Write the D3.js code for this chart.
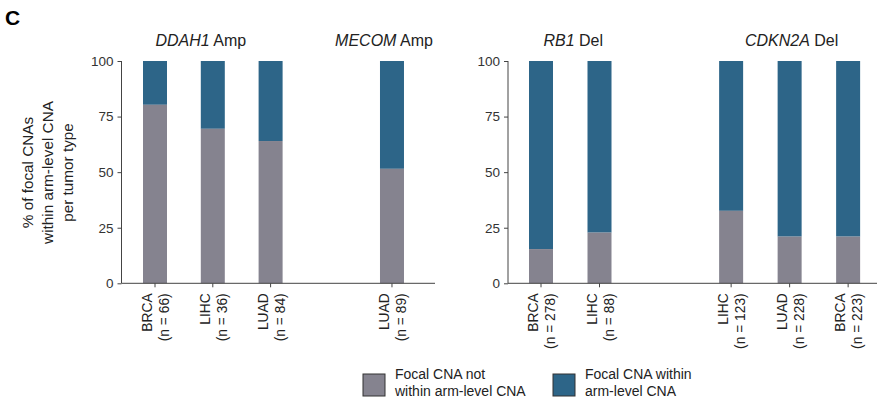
<!DOCTYPE html>
<html><head><meta charset="utf-8">
<script src="https://cdn.jsdelivr.net/npm/d3@7"></script>
<style>
html,body{margin:0;padding:0;background:#fff;}
svg{font-family:Arial,"Liberation Sans",Helvetica,sans-serif;}
</style></head>
<body><svg id="c" width="882" height="413"></svg>
<script>
// ---- data ----
const leftGenes = ["DDAH1", "MECOM"];
const leftTypes = ["Amp", "Amp"];
const leftCats = [["BRCA", "LIHC", "LUAD"], ["LUAD"]];
const leftN = [[66, 36, 84], [89]];
const leftNotWithin = [[80.3, 69.5, 64.0], [51.5]];

const rightGenes = ["RB1", "CDKN2A"];
const rightTypes = ["Del", "Del"];
const rightCats = [["BRCA", "LIHC"], ["LIHC", "LUAD", "BRCA"]];
const rightN = [[278, 88], [123, 228, 223]];
const rightNotWithin = [[15.4, 22.8], [32.6, 21.0, 21.0]];

const yTicks = [0, 25, 50, 75, 100];
const seriesNames = [["Focal CNA not", "within arm-level CNA"], ["Focal CNA within", "arm-level CNA"]];
const colors = ["#85838f", "#2d6588"];

const svg = d3.select("#c");
const y = d3.scaleLinear().domain([0, 100]).range([283.3, 61]);

svg.append("text").attr("x", 5).attr("y", 25).attr("font-size", 21).attr("font-weight", "bold").text("C");

// y label
const yl = svg.append("text").attr("transform", "translate(53,172.5) rotate(-90)")
  .attr("text-anchor", "middle").attr("font-size", 15.3).attr("fill", "#222");
["% of focal CNAs", "within arm-level CNA", "per tumor type"].forEach((t, i) => {
  yl.append("tspan").attr("x", 0).attr("dy", i === 0 ? -20 : 20).text(t);
});

function panel(axisX, axisEnd, firstOffset, spacing, gapSlots, genes, types, cats, ns, vals, titleOffsets) {
  const items = [];
  const groupCenters = [];
  let slot = 0;
  cats.forEach((g, gi) => {
    const start = slot;
    g.forEach((c, ci) => {
      items.push({cat: c, n: ns[gi][ci], v: vals[gi][ci], slot: slot});
      slot += 1;
    });
    groupCenters.push((start + slot - 1) / 2);
    slot += gapSlots - 1;
  });
  const x = d3.scaleLinear().domain([0, 1]).range([axisX + firstOffset, axisX + firstOffset + spacing]);
  const bw = 24;
  const g = svg.append("g");
  items.forEach(d => {
    g.append("rect").attr("x", x(d.slot) - bw / 2).attr("width", bw)
      .attr("y", y(100)).attr("height", y(d.v) - y(100)).attr("fill", colors[1]);
    g.append("rect").attr("x", x(d.slot) - bw / 2).attr("width", bw)
      .attr("y", y(d.v)).attr("height", y(0) - y(d.v)).attr("fill", colors[0]);
  });
  const ya = g.append("g").attr("transform", `translate(${axisX},0)`)
    .call(d3.axisLeft(y).tickValues(yTicks).tickSize(4).tickPadding(4));
  ya.select(".domain").attr("stroke", "#444").attr("d", `M-0,${y(100)}V${y(0)}`);
  ya.selectAll(".tick line").attr("stroke", "#444");
  ya.selectAll(".tick text").attr("font-size", 13.5).attr("fill", "#333").attr("font-family", null);
  g.append("line").attr("x1", axisX).attr("x2", axisEnd).attr("y1", y(0)).attr("y2", y(0)).attr("stroke", "#444");
  items.forEach(d => {
    g.append("line").attr("x1", x(d.slot)).attr("x2", x(d.slot)).attr("y1", y(0)).attr("y2", y(0) + 4).attr("stroke", "#444");
    const t = g.append("text").attr("transform", `translate(${x(d.slot)},${y(0) + 10}) rotate(-90)`)
      .attr("text-anchor", "end").attr("font-size", 13.8).attr("fill", "#222");
    t.append("tspan").attr("x", 0).attr("y", -3).text(d.cat);
    t.append("tspan").attr("x", 0).attr("y", 14).text(`(n = ${d.n})`);
  });
  genes.forEach((gn, i) => {
    const t = g.append("text").attr("x", x(groupCenters[i]) + titleOffsets[i]).attr("y", 45.5)
      .attr("text-anchor", "middle").attr("font-size", 16).attr("fill", "#222");
    t.append("tspan").attr("font-style", "italic").text(gn);
    t.append("tspan").text(" " + types[i]);
  });
}

panel(121.5, 435, 33.5, 57.8, 2.1, leftGenes, leftTypes, leftCats, leftN, leftNotWithin, [-12, -8]);
panel(508, 877, 33, 58.5, 2.25, rightGenes, rightTypes, rightCats, rightN, rightNotWithin, [3, 2]);

// legend
const legX = [363, 553];
seriesNames.forEach((lines, i) => {
  svg.append("rect").attr("x", legX[i]).attr("y", 374).attr("width", 22).attr("height", 22)
    .attr("fill", colors[i]).attr("stroke", "#333").attr("stroke-width", 1);
  const t = svg.append("text").attr("x", legX[i] + 32).attr("y", 378).attr("font-size", 14).attr("fill", "#222");
  lines.forEach((l, j) => t.append("tspan").attr("x", legX[i] + 32).attr("y", 379 + j * 17).text(l));
});
</script></body></html>
